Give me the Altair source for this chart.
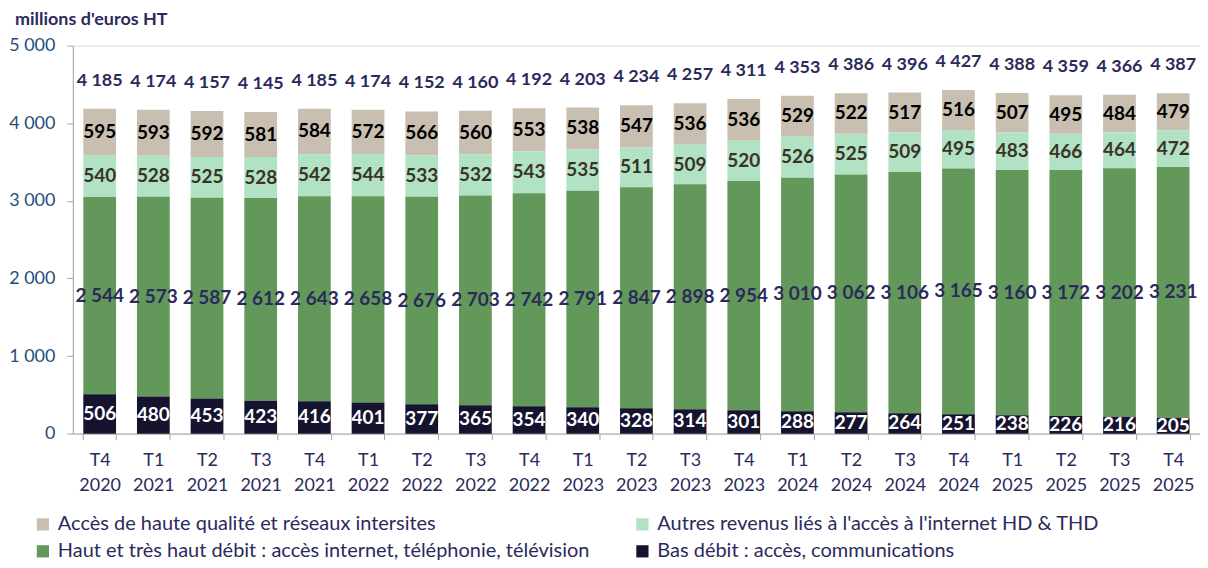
import altair as alt
import pandas as pd

periods = ["T4 2020", "T1 2021", "T2 2021", "T3 2021", "T4 2021", "T1 2022", "T2 2022",
           "T3 2022", "T4 2022", "T1 2023", "T2 2023", "T3 2023", "T4 2023", "T1 2024",
           "T2 2024", "T3 2024", "T4 2024", "T1 2025", "T2 2025", "T3 2025", "T4 2025"]
bas_debit = [506, 480, 453, 423, 416, 401, 377, 365, 354, 340, 328, 314, 301, 288, 277, 264, 251, 238, 226, 216, 205]
haut_debit = [2544, 2573, 2587, 2612, 2643, 2658, 2676, 2703, 2742, 2791, 2847, 2898, 2954, 3010, 3062,
              3106, 3165, 3160, 3172, 3202, 3231]
autres = [540, 528, 525, 528, 542, 544, 533, 532, 543, 535, 511, 509, 520, 526, 525, 509, 495, 483, 466, 464, 472]
acces_hq = [595, 593, 592, 581, 584, 572, 566, 560, 553, 538, 547, 536, 536, 529, 522, 517, 516, 507, 495, 484, 479]
totals = [4185, 4174, 4157, 4145, 4185, 4174, 4152, 4160, 4192, 4203, 4234, 4257, 4311, 4353, 4386,
          4396, 4427, 4388, 4359, 4366, 4387]

series = [
    "Accès de haute qualité et réseaux intersites",
    "Autres revenus liés à l'accès à l'internet HD & THD",
    "Haut et très haut débit : accès internet, téléphonie, télévision",
    "Bas débit : accès, communications",
]
colors = ["#C9BFB1", "#B0E2C3", "#62985A", "#16132F"]
label_colors = ["#000000", "#3B3228", "#2B2A5C", "#FFFFFF"]
stack_order = [3, 2, 1, 0]
values = [acces_hq, autres, haut_debit, bas_debit]


def fmt(v):
    return f"{v:,}".replace(",", " ")


rows = []
for s, vals, lc, o in zip(series, values, label_colors, stack_order):
    for p, v in zip(periods, vals):
        rows.append({"period": p, "series": s, "value": v, "lbl": fmt(v), "lcol": lc, "ord": o})
df = pd.DataFrame(rows)
df_tot = pd.DataFrame({"period": periods, "total": totals, "lbl": [fmt(t) for t in totals]})

FONT = "Lato"
NAVY = "#2B2A5C"

x_enc = alt.X("period:N", sort=periods, title=None,
              scale=alt.Scale(paddingInner=0.39, paddingOuter=0.195),
              axis=alt.Axis(labelExpr="split(datum.label, ' ')", labelAngle=0,
                            labelFontSize=18, labelColor=NAVY, labelFont=FONT,
                            labelLineHeight=25, labelPadding=12,
                            domainColor="#A6A6A6", tickColor="#A6A6A6", tickSize=6,
                            tickBand="extent"))

bars = alt.Chart(df).mark_bar().encode(
    x=x_enc,
    y=alt.Y("value:Q", stack="zero", title=None,
            scale=alt.Scale(domain=[0, 5000]),
            axis=alt.Axis(values=list(range(0, 5001, 500)), grid=False, labelOverlap=False,
                          labelExpr="replace(format(datum.value, ','), ',', ' ')",
                          labelFontSize=18, labelColor="#1F4E79", labelFont=FONT,
                          labelPadding=12,
                          domainColor="#A6A6A6", tickColor="#A6A6A6", tickSize=6)),
    color=alt.Color("series:N", scale=alt.Scale(domain=series, range=colors),
                    legend=alt.Legend(title=None, orient="none", legendX=-40, legendY=470,
                                      direction="horizontal",
                                      columns=2, columnPadding=42, rowPadding=7,
                                      symbolType="square", symbolSize=150,
                                      symbolStrokeWidth=0,
                                      labelFontSize=20, labelColor=NAVY, labelFont=FONT,
                                      labelLimit=700, labelOffset=5)),
    order=alt.Order("ord:Q", sort="ascending"),
)

seg_labels = alt.Chart(df).transform_stack(
    stack="value", as_=["y0", "y1"], groupby=["period"], sort=[alt.SortField("ord", order="ascending")]
).transform_calculate(
    mid="(datum.y0 + datum.y1) / 2"
).mark_text(fontSize=19, fontWeight="bold", font=FONT, baseline="middle").encode(
    x=alt.X("period:N", sort=periods),
    y=alt.Y("mid:Q"),
    text="lbl:N",
    color=alt.Color("lcol:N", scale=None),
)

tot_labels = alt.Chart(df_tot).mark_text(fontSize=18, fontWeight="bold", font=FONT,
                                         baseline="middle", dy=-28, color=NAVY).encode(
    x=alt.X("period:N", sort=periods),
    y=alt.Y("total:Q"),
    text="lbl:N",
)

chart = alt.layer(bars, seg_labels, tot_labels).properties(
    width=1130, height=389,
    padding={"left": 0, "top": 2, "right": 0, "bottom": 0},
    title=alt.TitleParams("millions d'euros HT", anchor="start", frame="group", dx=-58,
                          fontSize=18, fontWeight="bold", font=FONT, color=NAVY, offset=8),
).configure_view(stroke=None).configure(background="white")

chart.save("out.html", embed_options={"renderer": "svg", "actions": False})
